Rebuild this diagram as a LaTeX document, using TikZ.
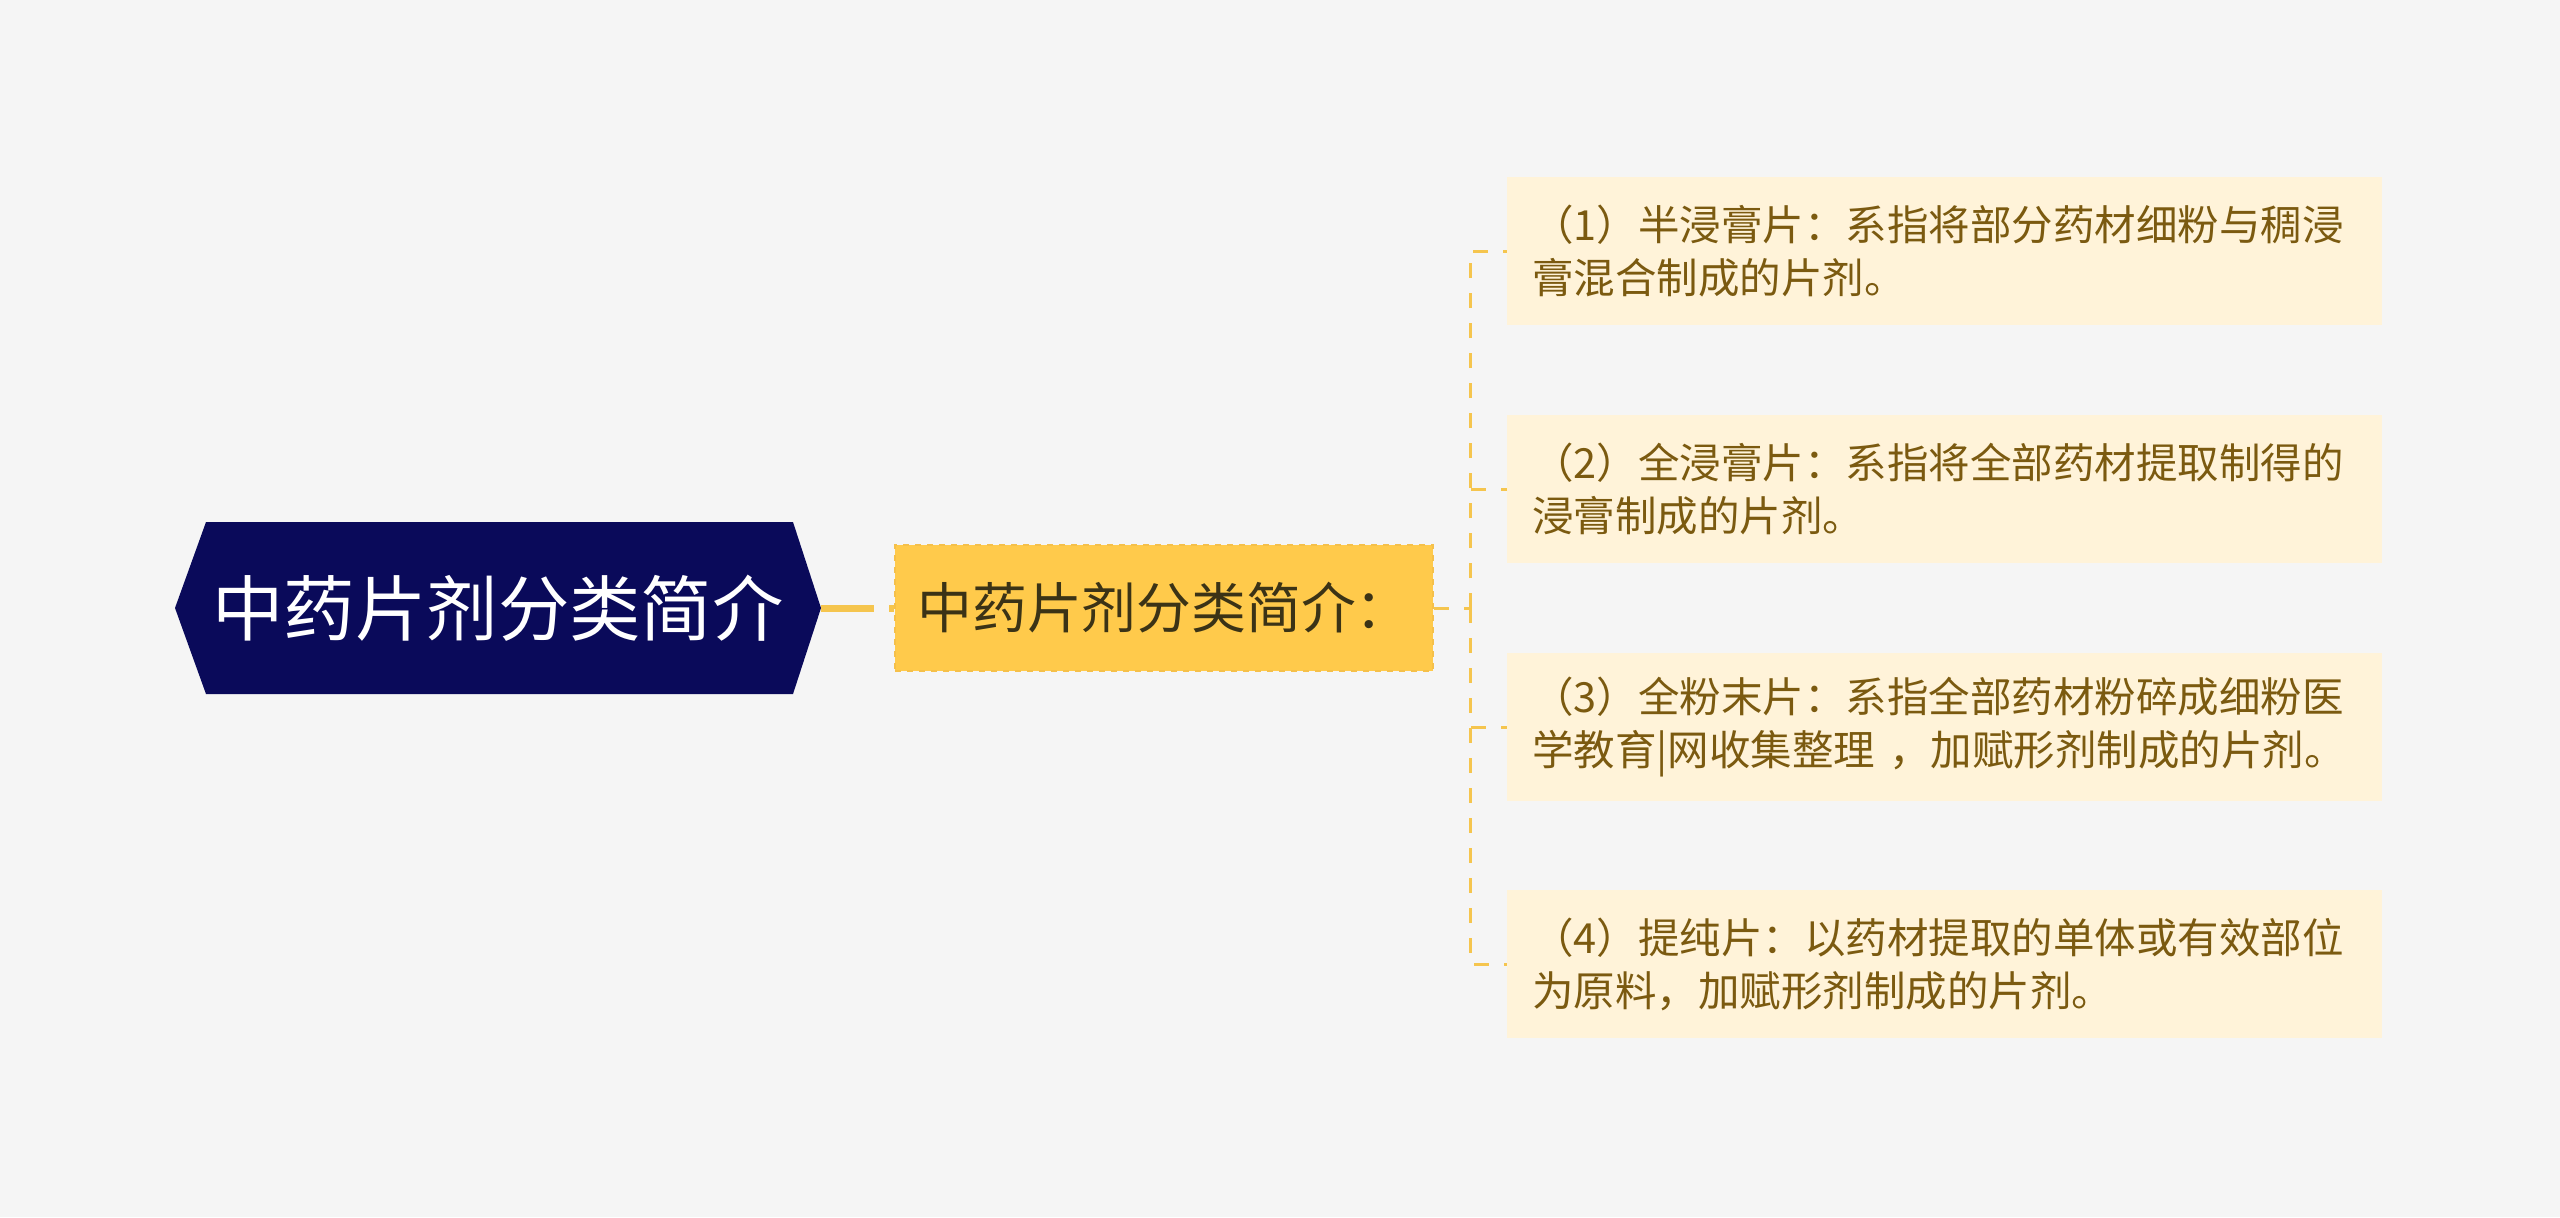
\documentclass[tikz,border=0pt]{standalone}
\usepackage{fontspec}
\newfontfamily\cjk{Noto Sans CJK SC}
\definecolor{bgc}{HTML}{F5F5F5}
\definecolor{navy}{HTML}{0A0A5A}
\definecolor{gold}{HTML}{FFCA4B}
\definecolor{goldline}{HTML}{F5C04A}
\definecolor{conn}{HTML}{F5C54E}
\definecolor{cream}{HTML}{FFF3D9}
\definecolor{brown}{HTML}{7B5A10}
\definecolor{darktxt}{HTML}{3B3316}
\begin{document}
\begin{tikzpicture}[x=0.5pt,y=-0.5pt,
  leaf/.style={rectangle, fill=cream, minimum width=437.5pt, minimum height=74pt,
    inner xsep=12.5pt, inner ysep=0pt, text width=412.5pt, align=left,
    text=brown, font=\cjk\fontsize{20.75pt}{26.5pt}\selectfont},
  thinconn/.style={draw=conn, line width=1.5pt, dash pattern=on 7.5pt off 7.5pt},
  thickconn/.style={draw=conn, line width=3.5pt, dash pattern=on 26.5pt off 7.5pt}]
\fill[bgc] (0,0) rectangle (2560,1217);
\useasboundingbox (0,0) rectangle (2560,1217);
% root
\fill[navy] (175,608) -- (206,522) -- (793,522) -- (821,608) -- (793,694) -- (206,694) -- cycle;
\node (root) [minimum width=323pt, minimum height=86pt, inner sep=0pt, text=white,
  font=\cjk\fontsize{35.7pt}{40pt}\selectfont] at (498,608) {中药片剂分类简介};
% sub
\node (sub) [rectangle, fill=gold, draw=goldline, dashed, line width=1pt,
  minimum width=269pt, minimum height=63pt, inner sep=0pt, text=darktxt,
  font=\cjk\fontsize{27.4pt}{32pt}\selectfont] at (1164,608) {中药片剂分类简介：};
% leaves
\node (b1) [leaf] at (1944.5,251) {（1）半浸膏片：系指将部分药材细粉与稠浸\\膏混合制成的片剂。};
\node (b2) [leaf] at (1944.5,489) {（2）全浸膏片：系指将全部药材提取制得的\\浸膏制成的片剂。};
\node (b3) [leaf] at (1944.5,727) {（3）全粉末片：系指全部药材粉碎成细粉医\\学教育|网收集整理 ，加赋形剂制成的片剂。};
\node (b4) [leaf] at (1944.5,964) {（4）提纯片：以药材提取的单体或有效部位\\为原料，加赋形剂制成的片剂。};
% connectors
\draw[thickconn] (root.east) -- (sub.west);
\coordinate (trunk) at (1470,608);
\draw[thinconn] (sub.east) -- (trunk);
\draw[thinconn] (trunk) |- (b1.west);
\draw[thinconn] (trunk) |- (b2.west);
\draw[thinconn] (trunk) |- (b3.west);
\draw[thinconn] (trunk) |- (b4.west);
\end{tikzpicture}
\end{document}
